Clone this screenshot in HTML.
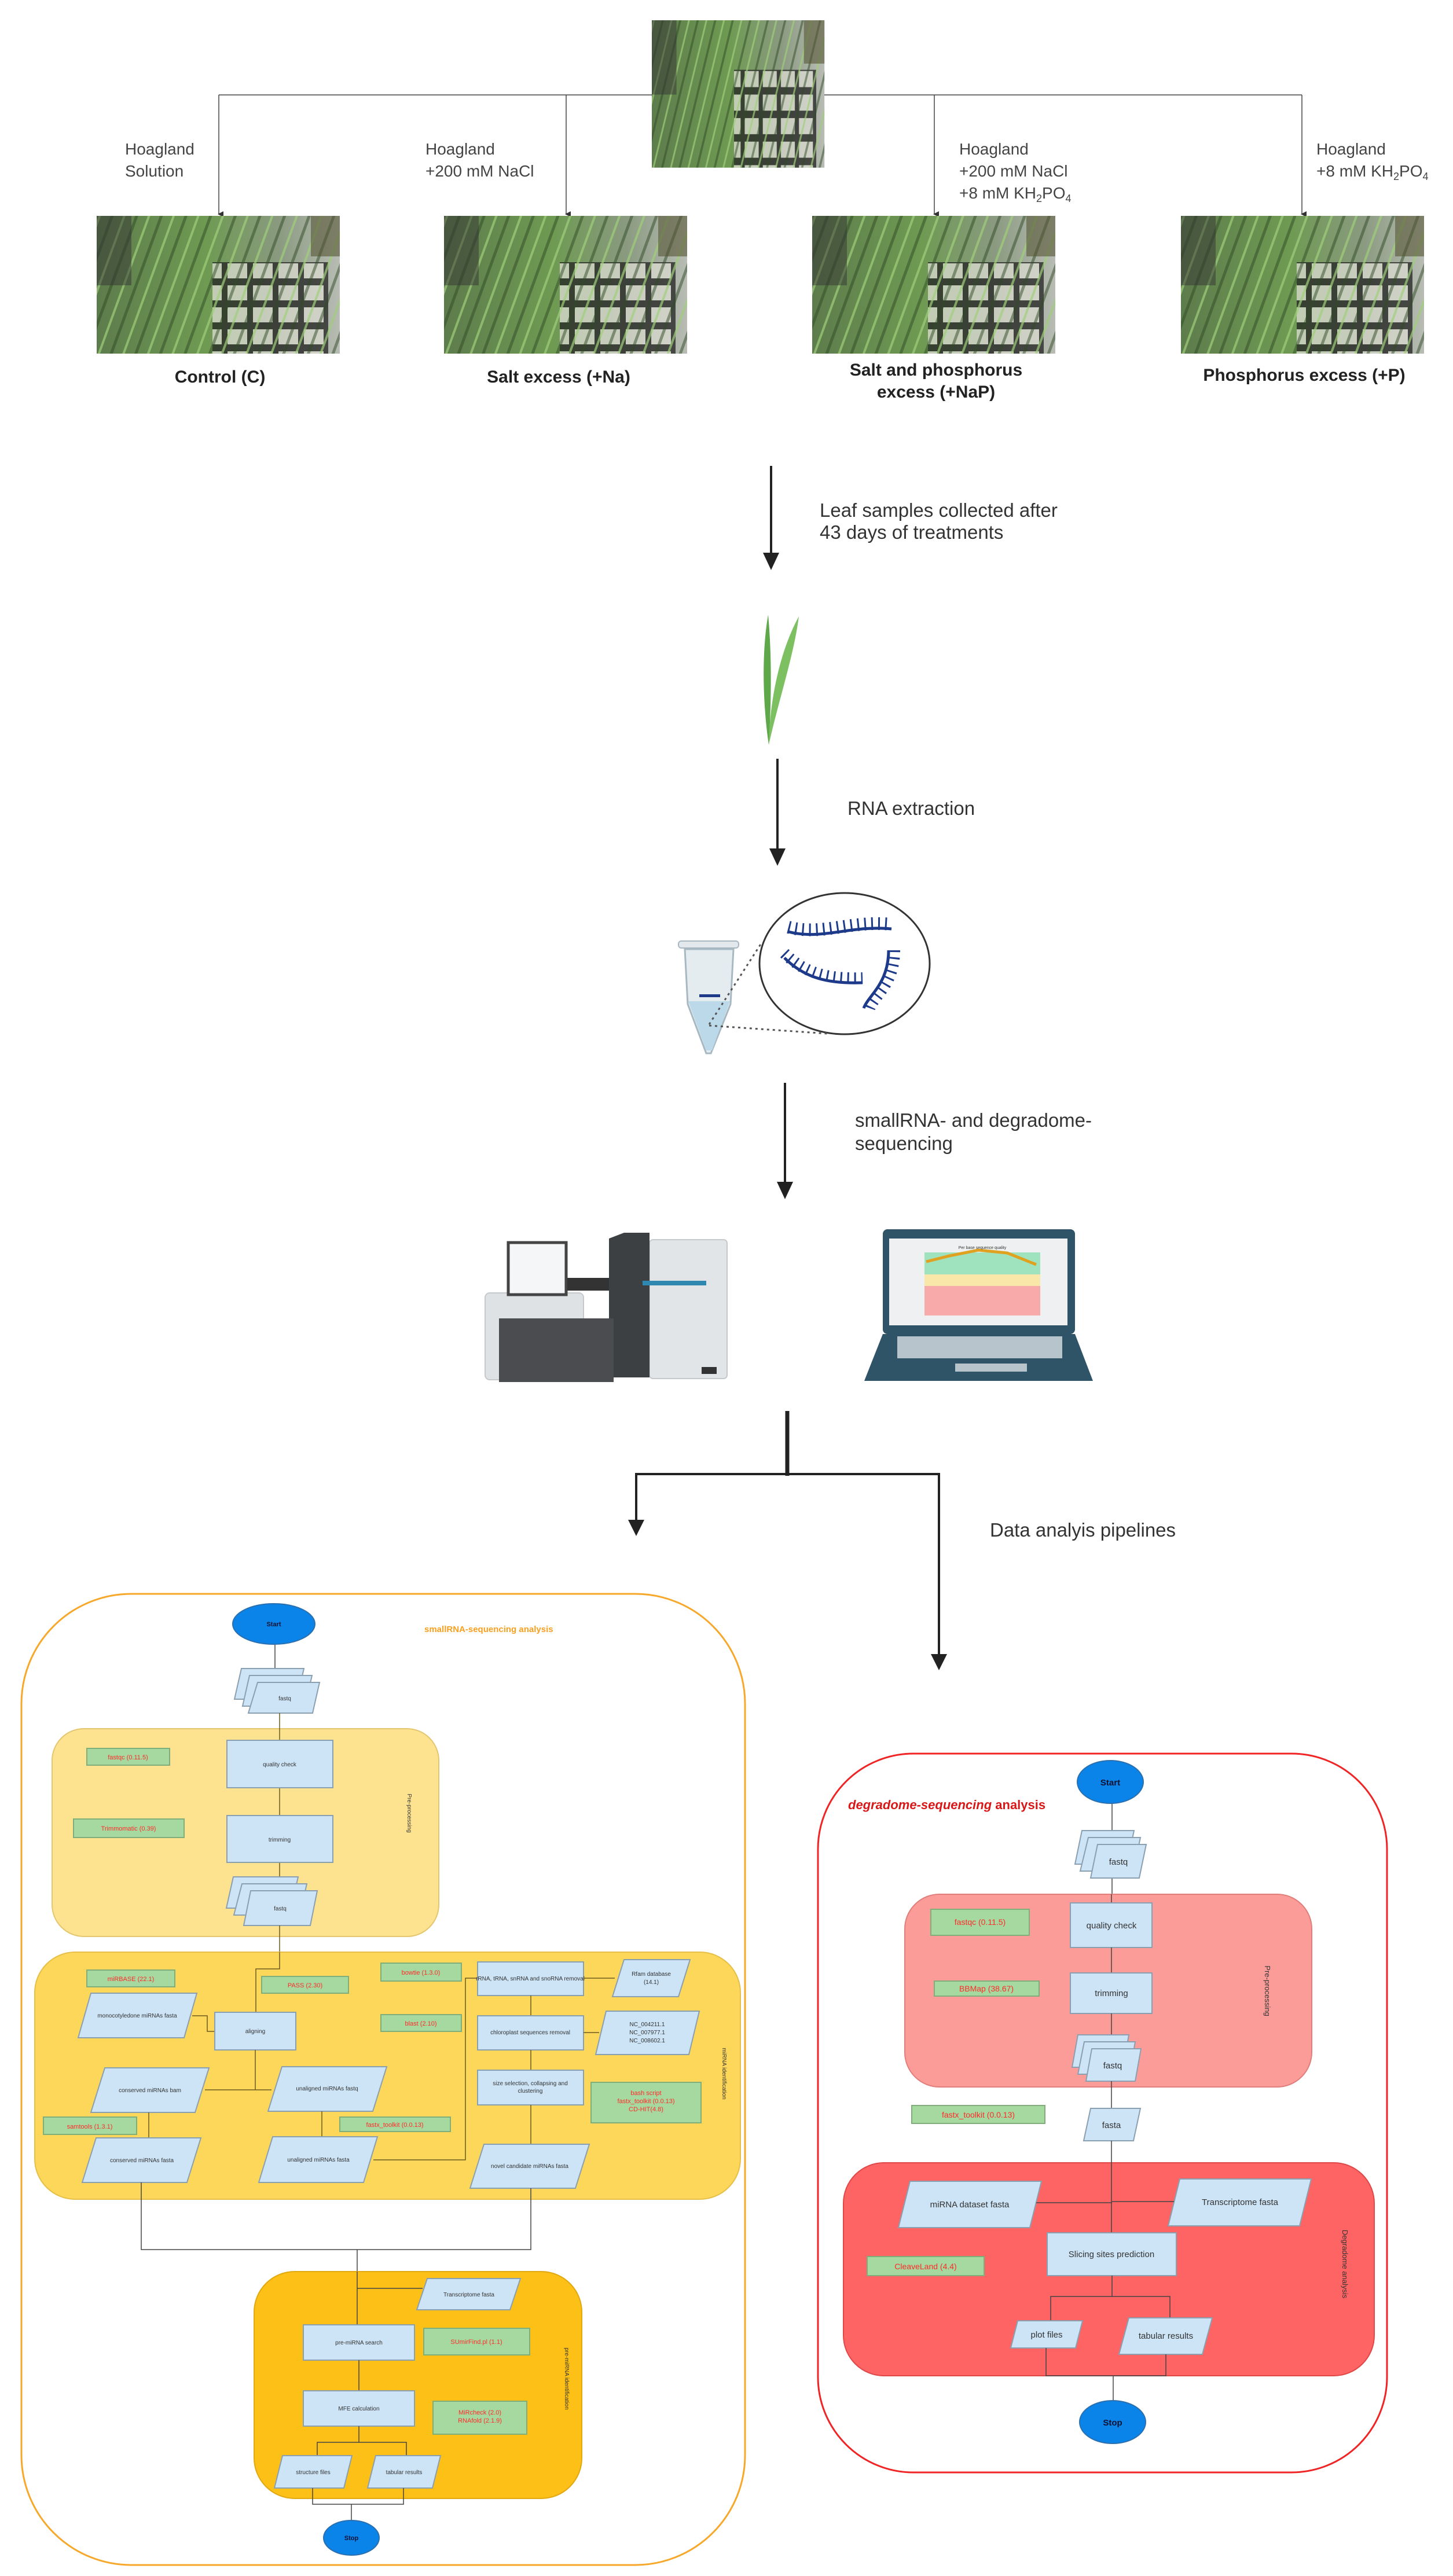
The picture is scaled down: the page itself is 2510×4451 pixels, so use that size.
<!DOCTYPE html>
<html><head><meta charset="utf-8"><style>
html,body{margin:0;padding:0;background:#fff}
svg{display:block}
text{font-family:"Liberation Sans",sans-serif}
.n{fill:#cde4f6;stroke:#8a9fb0;stroke-width:2}
.g{fill:#a6d9a0;stroke:#7fae7a;stroke-width:2}
.gt{fill:#ff2a2a;font-size:11px;text-anchor:middle}
.nt{fill:#333;font-size:10px;text-anchor:middle}
.dt{fill:#333;font-size:15px;text-anchor:middle}
.dg{fill:#ff2a2a;font-size:14px;text-anchor:middle}
.ln{stroke:#6b5a20;stroke-width:1.5;fill:none}
.lk{stroke:#444;stroke-width:1.5;fill:none}
.vt{fill:#333;font-size:10px}
</style></head><body>
<svg width="2510" height="4451" viewBox="0 0 2510 4451" xmlns="http://www.w3.org/2000/svg">
<defs>
<marker id="ah" markerWidth="10" markerHeight="10" refX="5" refY="8" orient="auto" markerUnits="userSpaceOnUse" viewBox="0 0 10 10"><path d="M0,0 L10,0 L5,10 z" fill="#333"/></marker>
<linearGradient id="ph" x1="0" y1="0" x2="1" y2="0">
<stop offset="0" stop-color="#5d7c4c"/><stop offset="0.45" stop-color="#6e9a52"/><stop offset="0.75" stop-color="#8a9a80"/><stop offset="1" stop-color="#b8bcb4"/></linearGradient>
<pattern id="leaves" width="40" height="60" patternUnits="userSpaceOnUse" patternTransform="rotate(20)">
<rect width="40" height="60" fill="none"/><line x1="5" y1="0" x2="5" y2="60" stroke="#9fcf7a" stroke-width="4" opacity="0.7"/><line x1="25" y1="0" x2="25" y2="60" stroke="#2f4a26" stroke-width="5" opacity="0.5"/></pattern>
<pattern id="grid" width="44" height="38" patternUnits="userSpaceOnUse">
<rect width="44" height="38" fill="#222"/><rect x="6" y="6" width="34" height="26" fill="#dcdcd2"/></pattern>
<g id="photo">
<rect width="420" height="238" fill="url(#ph)"/>
<rect x="200" y="80" width="200" height="158" fill="url(#grid)" opacity="0.75"/>
<rect width="420" height="238" fill="url(#leaves)"/>
<rect x="0" y="0" width="60" height="120" fill="#333" opacity="0.5"/>
<rect x="370" y="0" width="50" height="70" fill="#553" opacity="0.6"/>
</g>
</defs>

<!-- top photo -->
<g transform="translate(1126,35) scale(0.71,1.07)"><use href="#photo"/></g>
<!-- branch lines -->
<line x1="378" y1="164" x2="1126" y2="164" class="lk"/>
<line x1="1424" y1="164" x2="2249" y2="164" class="lk"/>
<line x1="378" y1="164" x2="378" y2="370" class="lk" marker-end="url(#ah)"/>
<line x1="978" y1="164" x2="978" y2="370" class="lk" marker-end="url(#ah)"/>
<line x1="1614" y1="164" x2="1614" y2="370" class="lk" marker-end="url(#ah)"/>
<line x1="2249" y1="164" x2="2249" y2="370" class="lk" marker-end="url(#ah)"/>
<g font-size="28" fill="#444">
<text x="216" y="267">Hoagland</text><text x="216" y="305">Solution</text>
<text x="735" y="267">Hoagland</text><text x="735" y="305">+200 mM NaCl</text>
<text x="1657" y="267">Hoagland</text><text x="1657" y="305">+200 mM NaCl</text><text x="1657" y="343">+8 mM KH<tspan font-size="18" dy="6">2</tspan><tspan dy="-6">PO</tspan><tspan font-size="18" dy="6">4</tspan></text>
<text x="2274" y="267">Hoagland</text><text x="2274" y="305">+8 mM KH<tspan font-size="18" dy="6">2</tspan><tspan dy="-6">PO</tspan><tspan font-size="18" dy="6">4</tspan></text>
</g>
<use href="#photo" x="167" y="373"/>
<use href="#photo" x="767" y="373"/>
<use href="#photo" x="1403" y="373"/>
<use href="#photo" x="2040" y="373"/>
<g font-size="30" font-weight="bold" fill="#222" text-anchor="middle">
<text x="380" y="661">Control (C)</text>
<text x="965" y="661">Salt excess (+Na)</text>
<text x="1617" y="649">Salt and phosphorus</text><text x="1617" y="687">excess (+NaP)</text>
<text x="2253" y="658">Phosphorus excess (+P)</text>
</g>

<!-- arrow 1 -->
<line x1="1332" y1="805" x2="1332" y2="960" stroke="#222" stroke-width="4"/>
<path d="M1318,955 L1346,955 L1332,985 z" fill="#222"/>
<g font-size="33" fill="#333"><text x="1416" y="893">Leaf samples collected after</text><text x="1416" y="931">43 days of treatments</text></g>
<!-- leaf -->
<path d="M1327,1062 C1315,1130 1318,1220 1328,1287 C1332,1220 1334,1140 1327,1062 z" fill="#5ea84a"/>
<path d="M1380,1065 C1350,1120 1330,1200 1328,1287 C1345,1210 1372,1130 1380,1065 z" fill="#7cc062"/>
<!-- arrow 2 -->
<line x1="1343" y1="1311" x2="1343" y2="1470" stroke="#222" stroke-width="4"/>
<path d="M1329,1466 L1357,1466 L1343,1496 z" fill="#222"/>
<text x="1464" y="1408" font-size="33" fill="#333">RNA extraction</text>
<!-- tube -->
<path d="M1183,1640 L1267,1640 L1262,1735 L1228,1820 L1220,1820 L1188,1735 z" fill="#e4ecf0" stroke="#a8b8c2" stroke-width="3"/>
<path d="M1189,1730 L1261,1730 L1230,1815 L1220,1815 z" fill="#bcd9ea"/>
<rect x="1172" y="1626" width="104" height="12" rx="5" fill="#e2e8ec" stroke="#a8b8c2" stroke-width="2"/>
<rect x="1208" y="1718" width="36" height="5" fill="#1d3a8a"/>
<ellipse cx="1459" cy="1665" rx="147" ry="122" fill="#fff" stroke="#333" stroke-width="3"/>
<path d="M1225,1770 L1315,1630 M1225,1772 L1430,1786" stroke="#555" stroke-width="3" stroke-dasharray="4 6"/>
<g fill="none" stroke="#1d3a8a">
<path d="M1362,1610 C1420,1625 1470,1598 1540,1605" stroke-width="5"/>
<path d="M1362,1610 C1420,1625 1470,1598 1540,1605" stroke-width="22" stroke-dasharray="3 9" transform="translate(0,-8)"/>
<path d="M1355,1655 C1390,1690 1430,1700 1490,1698" stroke-width="5"/>
<path d="M1355,1655 C1390,1690 1430,1700 1490,1698" stroke-width="20" stroke-dasharray="3 9" transform="translate(0,-8)"/>
<path d="M1535,1642 C1535,1700 1500,1720 1492,1742" stroke-width="5"/>
<path d="M1535,1642 C1535,1700 1500,1720 1492,1742" stroke-width="20" stroke-dasharray="3 9" transform="translate(10,0)"/>
</g>
<!-- arrow 3 -->
<line x1="1356" y1="1871" x2="1356" y2="2045" stroke="#222" stroke-width="4"/>
<path d="M1342,2042 L1370,2042 L1356,2072 z" fill="#222"/>
<g font-size="33" fill="#333"><text x="1477" y="1947">smallRNA- and degradome-</text><text x="1477" y="1987">sequencing</text></g>
<!-- sequencer -->
<rect x="1122" y="2142" width="134" height="240" rx="6" fill="#e2e5e8" stroke="#c5c9cc" stroke-width="2"/>
<rect x="838" y="2234" width="170" height="150" rx="8" fill="#dfe2e5" stroke="#c5c9cc" stroke-width="2"/>
<rect x="878" y="2147" width="100" height="90" fill="#f4f6f7" stroke="#444" stroke-width="5"/>
<rect x="980" y="2208" width="80" height="22" fill="#333"/>
<path d="M1052,2140 L1078,2130 L1122,2130 L1122,2380 L1052,2380 z" fill="#3d4043"/>
<rect x="1110" y="2213" width="110" height="8" fill="#2f88b0"/>
<rect x="862" y="2278" width="198" height="110" fill="#4a4c4f"/>
<rect x="1212" y="2362" width="26" height="12" fill="#333"/>
<!-- laptop -->
<rect x="1525" y="2124" width="332" height="181" rx="8" fill="#2f5468"/>
<rect x="1536" y="2140" width="308" height="150" fill="#eef0f1"/>
<rect x="1597" y="2164" width="200" height="38" fill="#9ee3bd"/>
<rect x="1597" y="2202" width="200" height="20" fill="#f8e7a8"/>
<rect x="1597" y="2222" width="200" height="51" fill="#f7aaa9"/>
<path d="M1600,2180 L1640,2170 L1690,2160 L1740,2165 L1790,2185" stroke="#e0a020" stroke-width="5" fill="none"/>
<text x="1697" y="2158" font-size="7" text-anchor="middle" fill="#333">Per base sequence quality</text>
<path d="M1525,2305 L1857,2305 L1888,2386 L1493,2386 z" fill="#2f5468"/>
<rect x="1550" y="2309" width="285" height="38" fill="#b8c4cb"/>
<rect x="1650" y="2356" width="124" height="14" fill="#b8c4cb"/>

<!-- split -->
<line x1="1360" y1="2438" x2="1360" y2="2550" stroke="#222" stroke-width="7"/>
<polyline points="1099,2630 1099,2547 1622,2547 1622,2860" stroke="#222" stroke-width="4" fill="none"/>
<path d="M1085,2626 L1113,2626 L1099,2654 z" fill="#222"/>
<path d="M1608,2858 L1636,2858 L1622,2886 z" fill="#222"/>
<text x="1710" y="2655" font-size="33" fill="#333">Data analyis pipelines</text>

<!-- ========== smallRNA panel ========== -->
<rect x="37" y="2754" width="1250" height="1678" rx="190" fill="#fff" stroke="#f7a82a" stroke-width="3"/>
<text x="733" y="2820" font-size="15" font-weight="bold" fill="#f7a020">smallRNA-sequencing analysis</text>
<line x1="475" y1="2840" x2="475" y2="2890" class="lk"/>
<ellipse cx="473" cy="2806" rx="71" ry="35" fill="#0a84e8" stroke="#2a6fb0" stroke-width="2"/>
<text x="473" y="2810" font-size="11" font-weight="bold" fill="#113" text-anchor="middle">Start</text>
<polygon class="n" points="417,2883 525,2883 513,2936 405,2936"/>
<polygon class="n" points="431,2895 539,2895 527,2948 419,2948"/>
<polygon class="n" points="445,2907 552,2907 540,2960 429,2960"/>
<text x="492" y="2938" class="nt">fastq</text>
<!-- preprocessing -->
<rect x="90" y="2987" width="668" height="359" rx="55" fill="#fde390" stroke="#e4c66e" stroke-width="2"/>
<line x1="483" y1="2960" x2="483" y2="3007" class="ln"/>
<line x1="483" y1="3089" x2="483" y2="3137" class="ln"/>
<line x1="483" y1="3218" x2="483" y2="3245" class="ln"/>
<rect x="392" y="3007" width="183" height="82" class="n"/><text x="483" y="3052" class="nt">quality check</text>
<rect x="392" y="3137" width="183" height="81" class="n"/><text x="483" y="3182" class="nt">trimming</text>
<rect x="150" y="3021" width="143" height="29" class="g"/><text x="221" y="3040" class="gt">fastqc (0.11.5)</text>
<rect x="127" y="3143" width="191" height="32" class="g"/><text x="222" y="3163" class="gt">Trimmomatic (0.39)</text>
<polygon class="n" points="403,3243 515,3243 503,3297 391,3297"/>
<polygon class="n" points="418,3255 530,3255 518,3309 404,3309"/>
<polygon class="n" points="433,3267 548,3267 536,3327 421,3327"/>
<text x="484" y="3301" class="nt">fastq</text>
<text transform="translate(704,3133) rotate(90)" class="vt" text-anchor="middle">Pre-processing</text>
<!-- miRNA identification -->
<line x1="483" y1="3327" x2="483" y2="3373" class="ln"/>
<rect x="60" y="3373" width="1219" height="427" rx="70" fill="#fdd75a" stroke="#e6bf48" stroke-width="2"/>
<polyline points="483,3373 483,3402 442,3402 442,3477" class="ln"/>
<rect x="150" y="3404" width="152" height="29" class="g"/><text x="226" y="3423" class="gt">miRBASE (22.1)</text>
<rect x="452" y="3415" width="150" height="29" class="g"/><text x="527" y="3434" class="gt">PASS (2.30)</text>
<rect x="658" y="3392" width="139" height="31" class="g"/><text x="727" y="3412" class="gt">bowtie (1.3.0)</text>
<rect x="658" y="3481" width="139" height="29" class="g"/><text x="727" y="3500" class="gt">blast (2.10)</text>
<polygon class="n" points="157,3444 340,3444 318,3521 135,3521"/><text x="237" y="3486" class="nt">monocotyledone miRNAs fasta</text>
<polyline points="332,3483 358,3483 358,3510 371,3510" class="ln"/>
<rect x="371" y="3477" width="140" height="65" class="n"/><text x="441" y="3513" class="nt">aligning</text>
<polyline points="441,3542 441,3611" class="ln"/>
<line x1="354" y1="3611" x2="469" y2="3611" class="ln"/>
<polygon class="n" points="181,3573 361,3573 337,3650 157,3650"/><text x="259" y="3615" class="nt">conserved miRNAs bam</text>
<polygon class="n" points="487,3571 668,3571 644,3648 463,3648"/><text x="565" y="3612" class="nt">unaligned miRNAs fastq</text>
<rect x="75" y="3658" width="161" height="30" class="g"/><text x="155" y="3678" class="gt">samtools (1.3.1)</text>
<rect x="587" y="3658" width="191" height="25" class="g"/><text x="682" y="3675" class="gt">fastx_toolkit (0.0.13)</text>
<line x1="257" y1="3650" x2="257" y2="3694" class="ln"/>
<line x1="556" y1="3648" x2="556" y2="3692" class="ln"/>
<polygon class="n" points="166,3694 347,3694 323,3771 142,3771"/><text x="245" y="3736" class="nt">conserved miRNAs fasta</text>
<polygon class="n" points="471,3692 652,3692 628,3771 447,3771"/><text x="550" y="3735" class="nt">unaligned miRNAs fasta</text>
<polyline points="645,3732 804,3732 804,3418 825,3418" class="ln"/>
<rect x="825" y="3390" width="183" height="58" class="n"/><text x="916" y="3422" class="nt">rRNA, tRNA, snRNA and snoRNA removal</text>
<polygon class="n" points="1078,3386 1192,3386 1172,3450 1058,3450"/><text x="1125" y="3414" class="nt">Rfam database</text><text x="1125" y="3428" class="nt">(14.1)</text>
<line x1="1008" y1="3418" x2="1062" y2="3418" class="ln"/>
<line x1="917" y1="3448" x2="917" y2="3483" class="ln"/>
<rect x="825" y="3483" width="183" height="59" class="n"/><text x="916" y="3515" class="nt">chloroplast sequences removal</text>
<polygon class="n" points="1047,3475 1208,3475 1190,3550 1029,3550"/>
<text x="1118" y="3501" class="nt">NC_004211.1</text><text x="1118" y="3515" class="nt">NC_007977.1</text><text x="1118" y="3529" class="nt">NC_008602.1</text>
<line x1="1008" y1="3512" x2="1035" y2="3512" class="ln" stroke-width="3"/>
<line x1="917" y1="3542" x2="917" y2="3577" class="ln"/>
<rect x="825" y="3577" width="183" height="60" class="n"/><text x="916" y="3603" class="nt">size selection, collapsing and</text><text x="916" y="3616" class="nt">clustering</text>
<rect x="1021" y="3598" width="190" height="70" class="g"/><text x="1116" y="3620" class="gt">bash script</text><text x="1116" y="3634" class="gt">fastx_toolkit (0.0.13)</text><text x="1116" y="3648" class="gt">CD-HIT(4.8)</text>
<line x1="917" y1="3637" x2="917" y2="3705" class="ln"/>
<polygon class="n" points="836,3705 1018,3705 994,3781 812,3781"/><text x="915" y="3746" class="nt">novel candidate miRNAs fasta</text>
<text transform="translate(1248,3583) rotate(90)" class="vt" text-anchor="middle">miRNA identification</text>
<!-- join -->
<polyline points="244,3771 244,3887 917,3887 917,3781" class="lk" stroke="#777"/>
<line x1="617" y1="3887" x2="617" y2="4017" class="lk"/>
<!-- pre-miRNA -->
<rect x="439" y="3925" width="566" height="392" rx="70" fill="#fdc016" stroke="#e2a810" stroke-width="2"/>
<line x1="617" y1="3925" x2="617" y2="4017" class="lk"/>
<line x1="617" y1="3954" x2="730" y2="3954" class="lk"/>
<polygon class="n" points="738,3937 899,3937 881,3991 720,3991"/><text x="810" y="3968" class="nt">Transcriptome fasta</text>
<rect x="524" y="4017" width="192" height="61" class="n"/><text x="620" y="4051" class="nt">pre-miRNA search</text>
<rect x="732" y="4023" width="183" height="46" class="g"/><text x="823" y="4050" class="gt">SUmirFind.pl (1.1)</text>
<line x1="620" y1="4078" x2="620" y2="4131" class="lk"/>
<rect x="524" y="4131" width="192" height="61" class="n"/><text x="620" y="4165" class="nt">MFE calculation</text>
<rect x="748" y="4149" width="162" height="57" class="g"/><text x="829" y="4172" class="gt">MiRcheck (2.0)</text><text x="829" y="4186" class="gt">RNAfold (2.1.9)</text>
<polyline points="620,4192 620,4220 548,4220 548,4243" class="lk"/>
<polyline points="620,4220 702,4220 702,4243" class="lk"/>
<polygon class="n" points="488,4243 608,4243 594,4299 474,4299"/><text x="541" y="4275" class="nt">structure files</text>
<polygon class="n" points="649,4243 761,4243 747,4299 635,4299"/><text x="698" y="4275" class="nt">tabular results</text>
<polyline points="540,4299 540,4327 697,4327 697,4299" class="lk" stroke="#888"/>
<line x1="607" y1="4327" x2="607" y2="4355" class="lk"/>
<text transform="translate(976,4110) rotate(90)" class="vt" text-anchor="middle">pre-miRNA identification</text>
<ellipse cx="607" cy="4385" rx="48" ry="30" fill="#0a84e8" stroke="#2a6fb0" stroke-width="2"/>
<text x="607" y="4389" font-size="11" font-weight="bold" fill="#113" text-anchor="middle">Stop</text>

<!-- ========== degradome panel ========== -->
<rect x="1413" y="3030" width="983" height="1242" rx="165" fill="#fff" stroke="#f02424" stroke-width="3"/>
<text x="1465" y="3126" font-size="22" font-weight="bold" fill="#d81818"><tspan font-style="italic">degradome-sequencing</tspan> analysis</text>
<line x1="1921" y1="3110" x2="1921" y2="3288" class="lk" stroke="#777"/>
<ellipse cx="1918" cy="3079" rx="57" ry="37" fill="#0a84e8" stroke="#2a6fb0" stroke-width="2"/>
<text x="1918" y="3085" font-size="15" font-weight="bold" fill="#113" text-anchor="middle">Start</text>
<polygon class="n" points="1869,3163 1959,3163 1947,3221 1857,3221"/>
<polygon class="n" points="1880,3175 1970,3175 1958,3233 1866,3233"/>
<polygon class="n" points="1896,3187 1980,3187 1968,3245 1884,3245"/>
<text x="1932" y="3222" class="dt">fastq</text>
<rect x="1563" y="3273" width="703" height="333" rx="60" fill="#fc9c99" stroke="#e07e7b" stroke-width="2"/>
<line x1="1920" y1="3273" x2="1920" y2="3288" class="lk"/>
<rect x="1849" y="3288" width="141" height="77" class="n"/><text x="1920" y="3332" class="dt">quality check</text>
<line x1="1920" y1="3365" x2="1920" y2="3409" class="lk"/>
<rect x="1849" y="3409" width="141" height="70" class="n"/><text x="1920" y="3449" class="dt">trimming</text>
<line x1="1920" y1="3479" x2="1920" y2="3520" class="lk"/>
<rect x="1608" y="3299" width="170" height="45" class="g"/><text x="1693" y="3326" class="dg">fastqc (0.11.5)</text>
<rect x="1614" y="3423" width="181" height="26" class="g"/><text x="1704" y="3441" class="dg">BBMap (38.67)</text>
<polygon class="n" points="1862,3516 1950,3516 1940,3572 1852,3572"/>
<polygon class="n" points="1873,3528 1961,3528 1951,3584 1862,3584"/>
<polygon class="n" points="1886,3540 1971,3540 1961,3596 1876,3596"/>
<text x="1922" y="3574" class="dt">fastq</text>
<text transform="translate(2185,3440) rotate(90)" font-size="13" fill="#333" text-anchor="middle">Pre-processing</text>
<line x1="1920" y1="3596" x2="1920" y2="3643" class="lk" stroke="#777"/>
<rect x="1575" y="3638" width="230" height="31" class="g"/><text x="1690" y="3659" class="dg">fastx_toolkit (0.0.13)</text>
<polygon class="n" points="1884,3643 1970,3643 1958,3699 1872,3699"/><text x="1920" y="3677" class="dt">fasta</text>
<rect x="1457" y="3737" width="917" height="368" rx="70" fill="#fe6464" stroke="#e04848" stroke-width="2"/>
<line x1="1920" y1="3699" x2="1920" y2="3858" class="lk" stroke="#555"/>
<polygon class="n" points="1572,3769 1799,3769 1779,3849 1552,3849"/><text x="1675" y="3814" class="dt">miRNA dataset fasta</text>
<polygon class="n" points="2038,3765 2265,3765 2245,3846 2018,3846"/><text x="2142" y="3810" class="dt">Transcriptome fasta</text>
<polyline points="1790,3806 1921,3806" class="lk" stroke="#444"/>
<polyline points="1921,3804 2028,3804" class="lk" stroke="#444"/>
<rect x="1809" y="3858" width="223" height="74" class="n"/><text x="1920" y="3900" class="dt">Slicing sites prediction</text>
<rect x="1498" y="3899" width="202" height="33" class="g"/><text x="1599" y="3921" class="dg">CleaveLand (4.4)</text>
<polyline points="1921,3932 1921,3968 1815,3968 1815,4010" class="lk" stroke="#444"/>
<polyline points="1921,3968 2021,3968 2021,4005" class="lk" stroke="#444"/>
<polygon class="n" points="1758,4010 1870,4010 1858,4057 1746,4057"/><text x="1808" y="4039" class="dt">plot files</text>
<polygon class="n" points="1950,4005 2094,4005 2077,4068 1933,4068"/><text x="2014" y="4041" class="dt">tabular results</text>
<polyline points="1807,4057 1807,4105 2014,4105 2014,4068" class="lk" stroke="#444"/>
<line x1="1923" y1="4105" x2="1923" y2="4148" class="lk"/>
<text transform="translate(2319,3912) rotate(90)" font-size="13" fill="#333" text-anchor="middle">Degradome analysis</text>
<ellipse cx="1922" cy="4185" rx="57" ry="37" fill="#0a84e8" stroke="#2a6fb0" stroke-width="2"/>
<text x="1922" y="4191" font-size="15" font-weight="bold" fill="#113" text-anchor="middle">Stop</text>
</svg>
</body></html>
